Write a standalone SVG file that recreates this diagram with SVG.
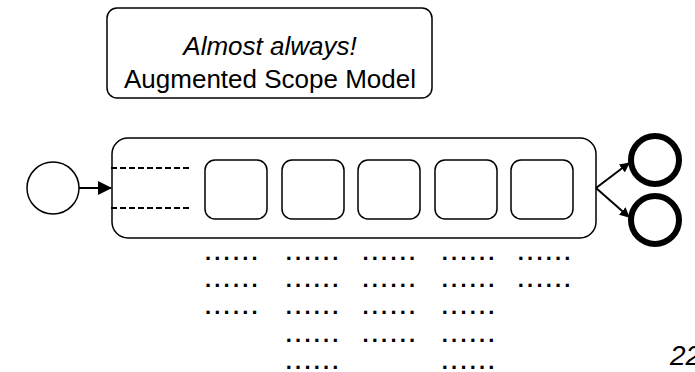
<svg xmlns="http://www.w3.org/2000/svg" width="695" height="372" viewBox="0 0 695 372">
<defs>
<style>
.t{font-family:"Liberation Sans",Arial,sans-serif;fill:#000}
.box{fill:#fff;stroke:#000;stroke-width:1.5}
.dots{font-family:"Liberation Sans",Arial,sans-serif;font-size:22px;font-weight:bold;letter-spacing:3.2px;fill:#000}
.conn{stroke:#000;stroke-width:2;fill:none}
.dash{stroke:#000;stroke-width:2;stroke-dasharray:6,3;fill:none}
</style>
<marker id="ah" markerWidth="10" markerHeight="10" refX="9" refY="5" orient="auto" markerUnits="userSpaceOnUse" viewBox="0 0 10 10">
<path d="M0,0 L10,5 L0,10 z" fill="#000"/>
</marker>
<marker id="ahL" markerWidth="14" markerHeight="14" refX="13" refY="7" orient="auto" markerUnits="userSpaceOnUse" viewBox="0 0 14 14">
<path d="M0,0 L14,7 L0,14 z" fill="#000"/>
</marker>
</defs>
<rect width="695" height="372" fill="#fff"/>
<g id="scope-label">
<rect class="box" x="107" y="8" width="325" height="90" rx="10"/>
<text class="t" x="270" y="55" font-size="26" font-style="italic" text-anchor="middle">Almost always!</text>
<text class="t" x="270" y="88" font-size="26" text-anchor="middle">Augmented Scope Model</text>
</g>
<g id="container">
<rect class="box" x="112" y="138" width="484" height="100" rx="16"/>
<line class="dash" x1="111" y1="168" x2="189" y2="168"/>
<line class="dash" x1="111" y1="208" x2="189" y2="208"/>
</g>
<g id="task1"><rect class="box" x="205" y="160" width="62" height="59" rx="10"/></g>
<g id="task2"><rect class="box" x="282" y="160" width="62" height="59" rx="10"/></g>
<g id="task3"><rect class="box" x="358" y="160" width="62" height="59" rx="10"/></g>
<g id="task4"><rect class="box" x="435" y="160" width="62" height="59" rx="10"/></g>
<g id="task5"><rect class="box" x="511" y="160" width="62" height="59" rx="10"/></g>
<g id="start"><circle cx="53" cy="188" r="26" fill="#fff" stroke="#000" stroke-width="1.5"/></g>
<g id="end1"><circle cx="655" cy="160" r="24" fill="#fff" stroke="#000" stroke-width="6"/></g>
<g id="end2"><circle cx="655" cy="220" r="24" fill="#fff" stroke="#000" stroke-width="6"/></g>
<g id="connectors">
<line class="conn" x1="79" y1="188" x2="111" y2="188" marker-end="url(#ahL)"/>
<line class="conn" x1="596" y1="188" x2="629" y2="163" marker-end="url(#ah)"/>
<line class="conn" x1="596" y1="188" x2="629" y2="217" marker-end="url(#ah)"/>
</g>
<g id="dots">
<text class="dots" x="205" y="259.5">......</text>
<text class="dots" x="205" y="286.5">......</text>
<text class="dots" x="205" y="313.5">......</text>
<text class="dots" x="285.8" y="259.5">......</text>
<text class="dots" x="285.8" y="286.5">......</text>
<text class="dots" x="285.8" y="313.5">......</text>
<text class="dots" x="285.8" y="341.5">......</text>
<text class="dots" x="285.8" y="368.5">......</text>
<text class="dots" x="362.5" y="259.5">......</text>
<text class="dots" x="362.5" y="286.5">......</text>
<text class="dots" x="362.5" y="313.5">......</text>
<text class="dots" x="362.5" y="341.5">......</text>
<text class="dots" x="441.8" y="259.5">......</text>
<text class="dots" x="441.8" y="286.5">......</text>
<text class="dots" x="441.8" y="313.5">......</text>
<text class="dots" x="441.8" y="341.5">......</text>
<text class="dots" x="441.8" y="368.5">......</text>
<text class="dots" x="517.8" y="259.5">......</text>
<text class="dots" x="517.8" y="286.5">......</text>
</g>
<text class="t" x="670" y="365" font-size="28" font-style="italic">22</text>
</svg>
